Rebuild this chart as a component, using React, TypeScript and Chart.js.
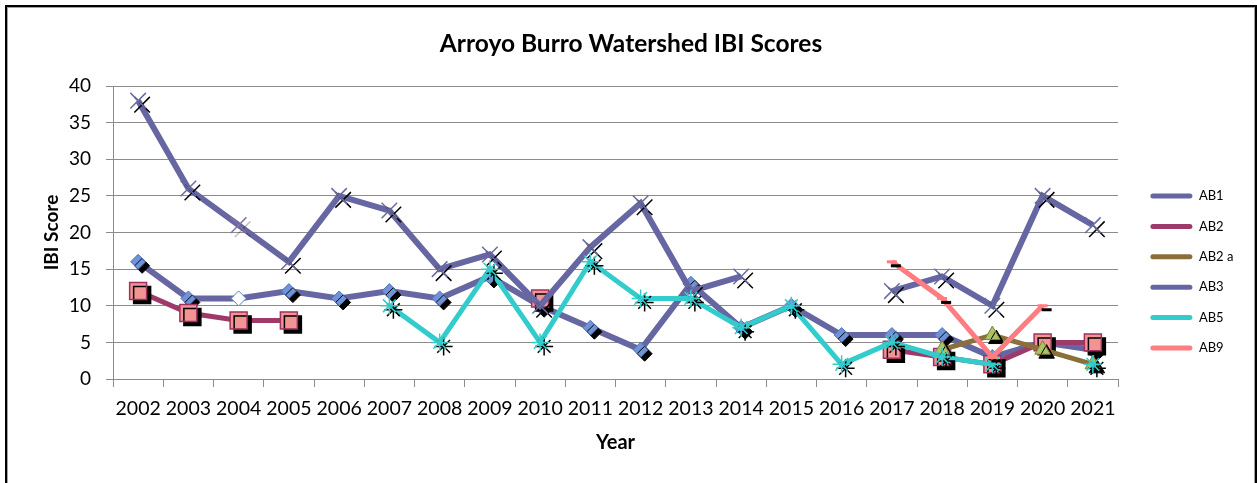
import React, { useEffect, useRef } from 'react';
import { Chart, registerables } from 'chart.js';

Chart.register(...registerables);

const years = ['2002', '2003', '2004', '2005', '2006', '2007', '2008', '2009', '2010', '2011', '2012', '2013', '2014', '2015', '2016', '2017', '2018', '2019', '2020', '2021'];

const ab1 = [16, 11, 11, 12, 11, 12, 11, 14, 10, 7, 4, 13, 7, 10, 6, 6, 6, 3, 5, 4];
const ab2 = [12, 9, 8, 8, null, null, null, null, 11, null, null, null, null, null, null, 4, 3, 2, 5, 5];
const ab2a = [null, null, null, null, null, null, null, null, null, null, null, null, null, null, null, null, 4, 6, 4, 2];
const ab3 = [38, 26, 21, 16, 25, 23, 15, 17, 10, 18, 24, 12, 14, null, null, 12, 14, 10, 25, 21];
const ab5 = [null, null, null, null, null, 10, 5, 15, 5, 16, 11, 11, 7, 10, 2, 5, 3, 2, null, 2];
const ab9 = [null, null, null, null, null, null, null, null, null, null, null, null, null, null, null, 16, 11, 3, 10, null];

const yTicks = [0, 5, 10, 15, 20, 25, 30, 35, 40];

const FONT = "Lato, 'Open Sans', sans-serif";
const GRID = '#8c8c8c';
const LEGEND_W = 137;

const ab1Bg = years.map((_, i) => (i === 2 ? '#ffffff' : '#6f93d8'));
const ab1Border = years.map((_, i) => (i === 2 ? '#4f81bd' : '#5473b3'));
const ab1Shadow = years.map((_, i) => (i === 2 ? 'rgba(0,0,0,0)' : '#000'));
const ab3Shadow = years.map((_, i) => (i === 2 ? 'rgba(0,0,0,0.25)' : '#000'));
const ab3Border = years.map((_, i) => (i === 2 ? '#8a6fa8' : '#6b6ba3'));

const shadowPlugin = {
  id: 'markerShadow',
  beforeDatasetDraw(chart: any, args: any) {
    const ds = chart.data.datasets[args.index];
    args.meta.data.forEach((el: any, i: number) => {
      if (el.$shadowWrapped) return;
      const orig = el.draw;
      el.draw = function (ctx: CanvasRenderingContext2D, area: any) {
        ctx.save();
        ctx.shadowColor = (ds.shadowColors && ds.shadowColors[i]) || '#000';
        ctx.shadowOffsetX = 4;
        ctx.shadowOffsetY = 4;
        ctx.shadowBlur = 0;
        orig.call(this, ctx, area);
        ctx.restore();
      };
      el.$shadowWrapped = true;
    });
  },
};

const legendPlacer = {
  id: 'legendPlacer',
  beforeLayout(chart: any) {
    const lg = chart.legend;
    if (lg && !lg.$patched) {
      const orig = lg.fit;
      lg.fit = function () {
        orig.call(this);
        this.width = LEGEND_W;
      };
      lg.$patched = true;
    }
  },
  afterLayout(chart: any) {
    const lg = chart.legend;
    if (!lg) return;
    lg.left += 15;
    lg.right += 15;
    lg.top += 27;
    lg.bottom += 27;
  },
};

export default function App() {
  const ref = useRef<HTMLCanvasElement>(null);

  useEffect(() => {
    const lineBase = { spanGaps: false, tension: 0, clip: false as any };
    const chart = new Chart(ref.current as HTMLCanvasElement, {
      type: 'line',
      data: {
        labels: years,
        datasets: [
          {
            ...lineBase,
            label: 'AB1',
            data: ab1,
            borderColor: '#6667a2',
            backgroundColor: '#6667a2',
            borderWidth: 6,
            pointStyle: 'rectRot',
            pointRadius: 7.5,
            pointBackgroundColor: ab1Bg,
            pointBorderColor: ab1Border,
            pointBorderWidth: 1,
            order: 6,
            shadowColors: ab1Shadow,
          } as any,
          {
            ...lineBase,
            label: 'AB2',
            data: ab2,
            borderColor: '#9e3a6a',
            backgroundColor: '#9e3a6a',
            borderWidth: 5,
            pointStyle: 'rect',
            pointRadius: 12,
            pointBackgroundColor: '#f29494',
            pointBorderColor: '#a0325f',
            pointBorderWidth: 1.5,
            order: 5,
          } as any,
          {
            ...lineBase,
            label: 'AB2 a',
            data: ab2a,
            borderColor: '#8b6f3a',
            backgroundColor: '#8b6f3a',
            borderWidth: 5,
            pointStyle: 'triangle',
            pointRadius: 9,
            pointBackgroundColor: '#a8c464',
            pointBorderColor: '#8a7a3a',
            pointBorderWidth: 1,
            order: 4,
          } as any,
          {
            ...lineBase,
            label: 'AB3',
            data: ab3,
            borderColor: '#6667a2',
            backgroundColor: '#6667a2',
            borderWidth: 6,
            pointStyle: 'crossRot',
            pointRadius: 11,
            pointBorderColor: ab3Border,
            pointBorderWidth: 1.5,
            order: 3,
            shadowColors: ab3Shadow,
          } as any,
          {
            ...lineBase,
            label: 'AB5',
            data: ab5,
            borderColor: '#33cccc',
            backgroundColor: '#33cccc',
            borderWidth: 5,
            pointStyle: 'star',
            pointRadius: 9,
            pointBorderColor: '#33cccc',
            pointBorderWidth: 1.5,
            order: 2,
          } as any,
          {
            ...lineBase,
            label: 'AB9',
            data: ab9,
            borderColor: '#ff7c80',
            backgroundColor: '#ff7c80',
            borderWidth: 5,
            pointStyle: 'line',
            pointRadius: 5,
            pointBorderColor: '#ff7c80',
            pointBorderWidth: 3,
            order: 1,
          } as any,
        ],
      },
      options: {
        animation: false,
        responsive: false,
        devicePixelRatio: 1,
        layout: { padding: 0 },
        font: { family: FONT } as any,
        plugins: {
          title: {
            display: true,
            text: 'Arroyo Burro Watershed IBI Scores',
            color: '#000',
            font: { family: FONT, size: 24.5, weight: 'bold' },
            padding: { top: 22.3, bottom: 27.3 },
          },
          legend: {
            display: true,
            position: 'right',
            align: 'center',
            labels: {
              color: '#000',
              font: { family: FONT, size: 13 },
              boxWidth: 42,
              boxHeight: 5,
              padding: 17.4,
              useBorderRadius: true,
              borderRadius: 2.5,
              generateLabels: (c: any) =>
                c.data.datasets.map((ds: any, i: number) => ({
                  text: ds.label,
                  fillStyle: ds.borderColor,
                  strokeStyle: ds.borderColor,
                  lineWidth: 0,
                  hidden: false,
                  datasetIndex: i,
                  borderRadius: 2.5,
                  fontColor: '#000',
                })),
            } as any,
          },
          tooltip: { enabled: false },
        },
        scales: {
          x: {
            type: 'category',
            offset: true,
            afterFit: (s: any) => {
              s.height = 104;
            },
            grid: {
              display: true,
              offset: true,
              drawOnChartArea: false,
              drawTicks: true,
              tickLength: 8,
              color: GRID,
            },
            border: { display: true, color: GRID },
            ticks: {
              color: '#000',
              font: { family: FONT, size: 19.5 },
              padding: 10,
              maxRotation: 0,
              autoSkip: false,
            },
            title: {
              display: true,
              text: 'Year',
              color: '#000',
              font: { family: FONT, size: 20, weight: 'bold' },
              padding: { top: 0, bottom: 28 },
            },
          },
          y: {
            min: 0,
            max: 40,
            afterFit: (s: any) => {
              s.width = 106;
            },
            afterBuildTicks: (s: any) => {
              s.ticks = yTicks.map((v) => ({ value: v }));
            },
            grid: {
              display: true,
              drawOnChartArea: true,
              drawTicks: true,
              tickLength: 7,
              color: GRID,
            },
            border: { display: true, color: GRID },
            ticks: {
              color: '#000',
              font: { family: FONT, size: 19 },
              padding: 15,
            },
            title: {
              display: true,
              text: 'IBI Score',
              color: '#000',
              font: { family: FONT, size: 19, weight: 'bold' },
              padding: { top: 33.6, bottom: 0 },
            },
          },
        },
      } as any,
      plugins: [shadowPlugin as any, legendPlacer as any],
    });
    return () => chart.destroy();
  }, []);

  return (
    <div
      style={{
        position: 'fixed',
        left: 5,
        top: 5,
        width: 1248,
        height: 490,
        border: '2px solid #000',
        boxShadow: 'inset 1px 1px 0 #a0a0a0, inset -1px 0 0 #a0a0a0',
        background: '#fff',
      }}
    >
      <canvas ref={ref} width={1248} height={476} style={{ display: 'block' }} />
    </div>
  );
}
